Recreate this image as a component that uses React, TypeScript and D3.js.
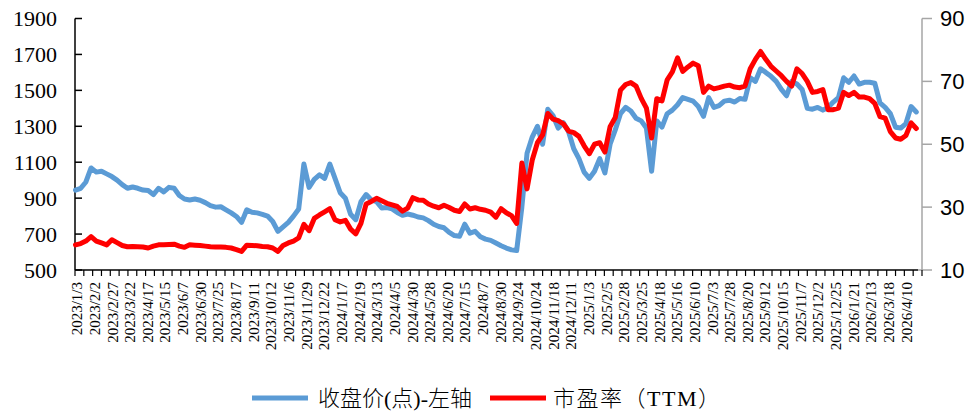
import React from "react";
import * as d3 from "d3";

// Trading-day tick labels (one every 17 trading days)
const tickLabels = [
  "2023/1/3", "2023/2/2", "2023/2/27", "2023/3/22", "2023/4/17", "2023/5/15", "2023/6/7", "2023/6/30",
  "2023/7/25", "2023/8/17", "2023/9/11", "2023/10/12", "2023/11/6", "2023/11/29", "2023/12/22", "2024/1/17",
  "2024/2/19", "2024/3/13", "2024/4/5", "2024/4/30", "2024/5/28", "2024/6/20", "2024/7/15", "2024/8/7",
  "2024/8/30", "2024/9/24", "2024/10/24", "2024/11/18", "2024/12/11", "2025/1/3", "2025/2/5", "2025/2/28",
  "2025/3/25", "2025/4/18", "2025/5/16", "2025/6/10", "2025/7/3", "2025/7/28", "2025/8/20", "2025/9/12",
  "2025/10/15", "2025/11/7", "2025/12/2", "2025/12/25", "2026/1/21", "2026/2/13", "2026/3/18", "2026/4/10",
];
const LABEL_EVERY = 17; // trading days between labels
const TOTAL_DAYS = 816; // categories on the axis
const SAMPLE_STEP = 5; // trading days between sampled values below

// 收盘价(点) sampled every 5 trading days
const closeValues = [
  945, 955, 990, 1068, 1045, 1050, 1035, 1020, 1000, 975,
  955, 962, 955, 945, 942, 920, 955, 935, 960, 955,
  915, 895, 890, 895, 888, 875, 858, 850, 852, 835,
  818, 798, 765, 835, 822, 818, 810, 800, 770, 715,
  740, 765, 800, 840, 1090, 960, 1005, 1030, 1010, 1090,
  1010, 930, 900, 810, 780, 880, 920, 890, 880, 845,
  848, 840, 820, 805, 812, 805, 795, 790, 775, 755,
  742, 735, 710, 692, 688, 755, 705, 715, 685, 672,
  665, 650, 635, 622, 612, 608, 850, 1150, 1240, 1300,
  1200, 1395, 1360, 1290, 1320, 1270, 1175, 1120, 1045, 1010,
  1050, 1120, 1040, 1200, 1280, 1370, 1405, 1385, 1345, 1330,
  1290, 1050, 1330, 1295, 1370, 1390, 1420, 1460, 1450, 1440,
  1410, 1355, 1460, 1405, 1415, 1440, 1445, 1435, 1455, 1450,
  1570, 1550, 1620, 1600, 1578, 1550, 1505, 1470, 1550, 1535,
  1505, 1400, 1395, 1405, 1390, 1405, 1435, 1460, 1570, 1545,
  1580, 1535, 1545, 1545, 1540, 1430, 1405, 1370, 1295, 1290,
  1315, 1410, 1380,
];

// 市盈率（TTM） sampled every 5 trading days
const peValues = [
  18.0, 18.4, 19.2, 20.6, 19.2, 18.6, 18.0, 19.6, 18.7, 17.8,
  17.4, 17.5, 17.4, 17.3, 17.0, 17.6, 18.0, 18.0, 18.1, 18.2,
  17.6, 17.2, 18.0, 17.9, 17.8, 17.6, 17.4, 17.3, 17.3, 17.2,
  17.0, 16.5, 15.9, 17.9, 17.8, 17.7, 17.5, 17.4, 17.0, 15.9,
  17.8, 18.6, 19.2, 20.2, 24.5, 22.5, 26.4, 27.5, 28.5, 29.5,
  26.0, 25.3, 25.8, 23.0, 21.5, 24.8, 31.0, 31.8, 32.8, 32.0,
  31.2, 30.7, 30.2, 28.7, 29.7, 33.0, 32.3, 32.2, 31.0, 30.3,
  29.8, 30.6, 29.9, 29.0, 28.6, 31.0, 29.4, 29.8, 29.3, 29.0,
  28.4, 26.8, 29.5, 28.2, 27.3, 24.8, 44.0, 35.8, 45.0, 50.5,
  53.0, 59.8, 58.0, 57.5, 56.5, 54.2, 53.7, 52.5, 49.5, 47.0,
  50.0, 50.5, 47.5, 55.6, 58.5, 67.2, 69.0, 69.6, 68.5, 64.6,
  61.5, 52.0, 64.5, 63.8, 70.5, 73.0, 77.5, 73.2, 74.6, 75.8,
  75.0, 66.5, 68.5, 67.6, 68.0, 68.5, 68.8, 68.2, 68.0, 68.5,
  74.0, 77.0, 79.5, 77.0, 74.8, 73.3, 71.8, 70.0, 68.5, 74.0,
  72.5, 70.0, 66.5, 66.8, 67.4, 61.0, 61.0, 61.5, 66.5, 65.5,
  66.5, 65.0, 65.0, 64.5, 63.0, 58.8, 58.3, 54.0, 52.0, 51.6,
  52.8, 56.8, 55.0,
];

const leftTicks = [500, 700, 900, 1100, 1300, 1500, 1700, 1900];
const rightTicks = [10, 30, 50, 70, 90];

const seriesNames = ["收盘价(点)-左轴", "市盈率（TTM）"];
const seriesColors = ["#5B9BD5", "#FF0000"];

const W = 976;
const H = 414;
const X0 = 75;
const X1 = 922;
const YT = 18.5;
const YB = 270;

export default function App() {
  const x = d3.scaleLinear().domain([0, TOTAL_DAYS]).range([X0, X1]);
  const yL = d3.scaleLinear().domain([500, 1900]).range([YB, YT]);
  const yR = d3.scaleLinear().domain([10, 90]).range([YB, YT]);

  const dayX = (j: number) => x(j * SAMPLE_STEP + 0.5);
  const closeLine = d3
    .line<number>()
    .x((_, j) => dayX(j))
    .y((v) => yL(v));
  const peLine = d3
    .line<number>()
    .x((_, j) => dayX(j))
    .y((v) => yR(v));

  const tickCount = (TOTAL_DAYS / LABEL_EVERY) * 2;
  const xTicks = d3.range(tickCount + 1).map((k) => x((k * LABEL_EVERY) / 2));

  const serif = "'Liberation Serif', 'Times New Roman', serif";
  const sans = "'Liberation Sans', Arial, sans-serif";
  const legendFont = "'Liberation Serif', 'Noto Sans CJK SC', serif";

  return (
    <svg
      width={W}
      height={H}
      style={{ position: "absolute", left: 0, top: 0, background: "#fff" }}
    >
      <rect width={W} height={H} fill="#fff" />
      {/* left axis */}
      <line x1={X0} x2={X0} y1={YT} y2={YB} stroke="#000" strokeWidth={1.5} />
      {leftTicks.map((t) => (
        <g key={"l" + t}>
          <line x1={X0} x2={X0 + 7} y1={yL(t)} y2={yL(t)} stroke="#000" strokeWidth={1.5} />
          <text
            x={57}
            y={yL(t)}
            dy="0.35em"
            textAnchor="end"
            fontFamily={serif}
            fontSize={22}
            fill="#000"
          >
            {t}
          </text>
        </g>
      ))}
      {/* right axis */}
      <line x1={X1} x2={X1} y1={YT} y2={YB} stroke="#A6A6A6" strokeWidth={1.5} />
      {rightTicks.map((t) => (
        <g key={"r" + t}>
          <line x1={X1} x2={X1 + 10} y1={yR(t)} y2={yR(t)} stroke="#A6A6A6" strokeWidth={1.5} />
          <text
            x={940}
            y={yR(t)}
            dy="0.36em"
            textAnchor="start"
            fontFamily={sans}
            fontSize={22}
            fill="#000"
          >
            {t}
          </text>
        </g>
      ))}
      {/* bottom axis */}
      <line x1={X0} x2={X1 - 4} y1={YB} y2={YB} stroke="#000" strokeWidth={1.5} />
      <line x1={X1 - 4} x2={X1} y1={YB} y2={YB} stroke="#A6A6A6" strokeWidth={1.5} />
      {xTicks.map((tx, k) => (
        <line key={"t" + k} x1={tx} x2={tx} y1={YB} y2={YB + 6} stroke="#000" strokeWidth={1.2} />
      ))}
      {tickLabels.map((lab, i) => {
        const lx = x(i * LABEL_EVERY + 0.5) + 1.5;
        return (
          <text
            key={"x" + i}
            transform={`translate(${lx},${282}) rotate(-90)`}
            dy="0.35em"
            textAnchor="end"
            fontFamily={serif}
            fontSize={15}
            fill="#000"
          >
            {lab}
          </text>
        );
      })}
      {/* series */}
      <path
        d={closeLine(closeValues) || ""}
        fill="none"
        stroke={seriesColors[0]}
        strokeWidth={5}
        strokeLinejoin="round"
        strokeLinecap="round"
      />
      <path
        d={peLine(peValues) || ""}
        fill="none"
        stroke={seriesColors[1]}
        strokeWidth={5}
        strokeLinejoin="round"
        strokeLinecap="round"
      />
      {/* legend */}
      <line x1={252} x2={308} y1={398} y2={398} stroke={seriesColors[0]} strokeWidth={5} />
      <text x={318} y={398} dy="0.36em" fontFamily={legendFont} fontSize={22} fontWeight={300} fill="#000">
        {seriesNames[0]}
      </text>
      <line x1={490} x2={546} y1={398} y2={398} stroke={seriesColors[1]} strokeWidth={5} />
      <text
        x={553}
        y={398}
        dy="0.36em"
        fontFamily={legendFont}
        fontSize={22}
        fontWeight={300}
        letterSpacing={1.5}
        fill="#000"
      >
        {seriesNames[1]}
      </text>
    </svg>
  );
}
